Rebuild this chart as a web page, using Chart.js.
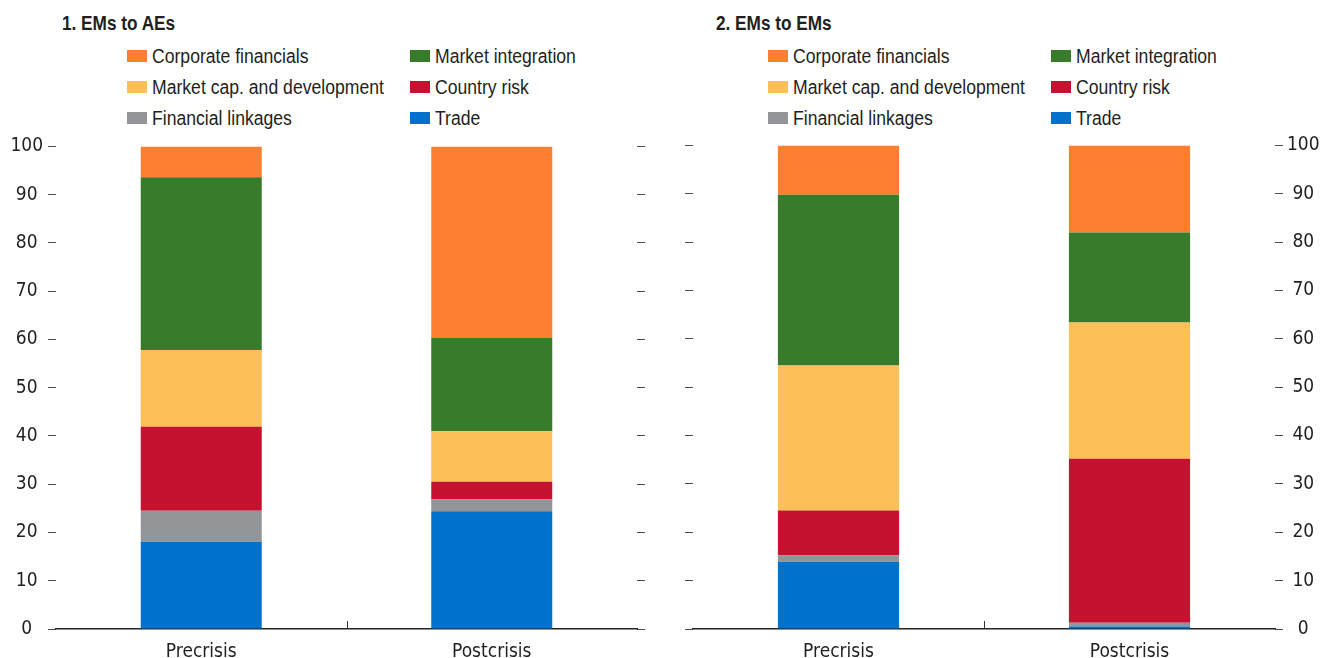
<!DOCTYPE html>
<html lang="en">
<head>
    <meta charset="UTF-8">
    <title>EM spillovers decomposition</title>
    <script src="https://cdn.jsdelivr.net/npm/chart.js"></script>
    <style>
        body {
            margin: 0;
            padding: 0;
            background: #fff;
            font-family: "Liberation Sans", Arial, sans-serif;
            color: #231f20;
        }
        #wrap {
            position: relative;
            width: 1321px;
            height: 658px;
            overflow: hidden;
        }
        .title {
            position: absolute;
            top: 12px;
            font-weight: bold;
            font-size: 20px;
            transform: scaleX(0.86);
            transform-origin: left center;
            white-space: nowrap;
        }
        .legend {
            position: absolute;
            top: 42px;
            display: grid;
            grid-template-columns: 283px 200px;
            grid-auto-rows: 31px;
            font-size: 20px;
        }
        .legend-item {
            display: flex;
            align-items: center;
            height: 28px;
            white-space: nowrap;
        }
        .swatch {
            width: 20px;
            height: 12px;
            margin-right: 5px;
            flex: none;
        }
        .legend-text {
            display: inline-block;
            transform: scaleX(0.88);
            transform-origin: left center;
        }
        canvas {
            position: absolute;
            top: 130px;
        }
    </style>
</head>
<body>
<div id="wrap">
    <div class="title" style="left:62px">1. EMs to AEs</div>
    <div class="legend" id="leg1" style="left:127px"></div>
    <canvas id="c1" width="660" height="528" style="left:0px"></canvas>

    <div class="title" style="left:716px">2. EMs to EMs</div>
    <div class="legend" id="leg2" style="left:768px"></div>
    <canvas id="c2" width="661" height="528" style="left:660px"></canvas>
</div>

<script>
    const categories = ['Precrisis', 'Postcrisis'];

    // series names, bottom of the stack first
    const seriesNames = ['Trade', 'Financial linkages', 'Country risk', 'Market cap. and development', 'Market integration', 'Corporate financials'];
    const seriesColors = ['#0072ce', '#939598', '#c41230', '#fdbf57', '#377b2b', '#ff7f30'];

    // 1. EMs to AEs (percent)
    const aeTrade = [18.1, 24.4];
    const aeFinLinkages = [6.4, 2.5];
    const aeCountryRisk = [17.4, 3.6];
    const aeMarketCap = [15.9, 10.5];
    const aeMarketIntegration = [35.8, 19.3];
    const aeCorporate = [6.4, 39.7];

    // 2. EMs to EMs (percent)
    const emTrade = [13.9, 0.5];
    const emFinLinkages = [1.3, 0.8];
    const emCountryRisk = [9.3, 33.9];
    const emMarketCap = [30.0, 28.2];
    const emMarketIntegration = [35.3, 18.6];
    const emCorporate = [10.2, 18.0];

    const yTicks = [0, 10, 20, 30, 40, 50, 60, 70, 80, 90, 100];

    const fontFamily = '"DejaVu Sans Condensed", "Liberation Sans", sans-serif';
    const textColor = '#231f20';

    function buildLegend(id) {
        const el = document.getElementById(id);
        for (let i = seriesNames.length - 1; i >= 0; i--) {
            const item = document.createElement('div');
            item.className = 'legend-item';
            item.innerHTML = `<span class="swatch" style="background:${seriesColors[i]}"></span><span class="legend-text">${seriesNames[i]}</span>`;
            el.appendChild(item);
        }
    }

    // small tick between the two categories, pointing up from the baseline
    const separatorTick = {
        id: 'separatorTick',
        afterDraw(chart) {
            const x = chart.scales.x;
            const bottom = chart.chartArea.bottom;
            const ctx = chart.ctx;
            ctx.save();
            ctx.strokeStyle = '#333';
            ctx.lineWidth = 1;
            for (let i = 1; i < categories.length; i++) {
                const px = Math.round((x.getPixelForValue(i - 1) + x.getPixelForValue(i)) / 2) + 0.5;
                ctx.beginPath();
                ctx.moveTo(px, bottom - 8);
                ctx.lineTo(px, bottom);
                ctx.stroke();
            }
            ctx.restore();
        }
    };

    function yScale(position, showLabels, width, pad) {
        return {
            position: position,
            stacked: true,
            min: 0,
            max: 100,
            afterBuildTicks: (axis) => { axis.ticks = yTicks.map(v => ({ value: v })); },
            afterFit: (axis) => { axis.width = width; },
            border: { display: false },
            grid: {
                drawOnChartArea: false,
                drawTicks: true,
                tickLength: 8,
                tickColor: '#4d4d4d',
                tickWidth: 1
            },
            ticks: {
                display: showLabels,
                crossAlign: 'center',
                padding: pad,
                color: textColor,
                font: { family: fontFamily, size: 19 }
            }
        };
    }

    function makeChart(canvasId, values, leftWidth, rightWidth, labelsOnLeft) {
        const datasets = seriesNames.map((name, i) => ({
            label: name,
            data: values[i],
            backgroundColor: seriesColors[i],
            borderWidth: 0,
            categoryPercentage: 1.0,
            barPercentage: 0.4165
        }));
        const scales = {
            x: {
                stacked: true,
                afterFit: (axis) => { axis.height = 29; },
                grid: { display: false, drawTicks: false },
                border: { display: true, color: '#222', width: 1.5 },
                ticks: {
                    padding: 12,
                    color: textColor,
                    font: { family: fontFamily, size: 19 }
                }
            }
        };
        if (labelsOnLeft) {
            scales.y = yScale('left', true, leftWidth, 5);
            scales.yr = yScale('right', false, rightWidth, 0);
        } else {
            scales.yl = yScale('left', false, leftWidth, 0);
            scales.y = yScale('right', true, rightWidth, 4);
        }
        return new Chart(document.getElementById(canvasId).getContext('2d'), {
            type: 'bar',
            data: { labels: categories, datasets: datasets },
            options: {
                responsive: false,
                animation: false,
                layout: { padding: { top: 14, left: 0, right: 0, bottom: 0 } },
                plugins: { legend: { display: false }, tooltip: { enabled: false } },
                scales: scales
            },
            plugins: [separatorTick]
        });
    }

    buildLegend('leg1');
    buildLegend('leg2');

    makeChart('c1', [aeTrade, aeFinLinkages, aeCountryRisk, aeMarketCap, aeMarketIntegration, aeCorporate], 56, 23, true);
    makeChart('c2', [emTrade, emFinLinkages, emCountryRisk, emMarketCap, emMarketIntegration, emCorporate], 33, 46, false);
</script>
</body>
</html>
